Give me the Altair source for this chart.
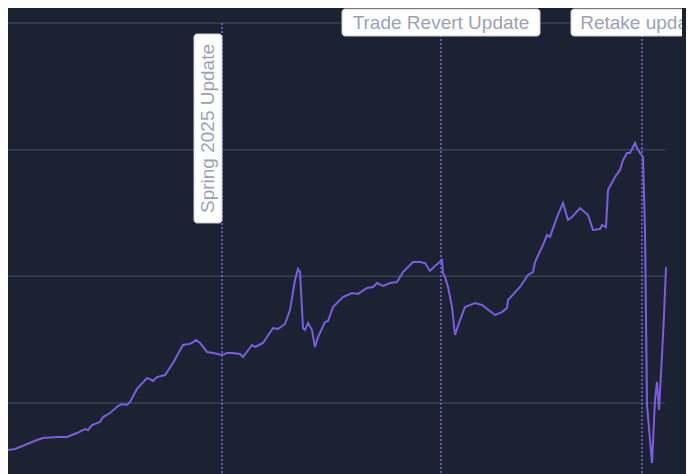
import altair as alt
import pandas as pd

# ---- data ----
t = [0, 8, 15, 20, 37, 43, 57, 67, 77, 85, 88, 92, 100, 103, 110, 118, 122, 127, 130,
     137, 147, 150, 153, 157, 165, 173, 183, 189, 192, 196, 200, 207, 213, 222, 227,
     233, 240, 243, 252, 255, 263, 273, 278, 285, 290, 295, 298, 300, 303, 305, 308,
     312, 315, 318, 325, 328, 333, 343, 352, 358, 367, 373, 377, 383, 390, 397, 403,
     413, 420, 425, 430, 435, 442, 443, 445, 448, 452, 455, 460, 465, 475, 482, 495,
     502, 507, 508, 520, 528, 533, 535, 543, 547, 550, 557, 563, 568, 572, 580, 588,
     593, 600, 602, 606, 608, 615, 620, 623, 627, 630, 635, 637, 640, 643, 645, 647,
     652, 655, 657, 659, 662, 664, 666]
value = [64.5, 62.9, 63.7, 65.3, 70.8, 72.4, 73.2, 73.2, 76.3, 79.5, 78.7, 82.6, 85.0,
         88.9, 92.1, 97.6, 99.2, 98.4, 100.8, 111.1, 119.7, 118.9, 117.4, 120.5, 122.1,
         131.6, 145.8, 146.6, 147.4, 149.7, 147.4, 140.3, 139.5, 137.9, 139.5, 139.5,
         138.7, 136.3, 145.8, 144.2, 147.4, 159.2, 158.4, 162.4, 173.4, 197.1, 205.8,
         203.4, 159.2, 157.6, 163.2, 157.6, 144.2, 152.1, 163.9, 164.7, 175.8, 183.7,
         186.8, 186.1, 190.8, 191.6, 194.7, 192.4, 194.7, 195.5, 203.4, 211.3, 211.3,
         210.5, 204.2, 208.2, 212.9, 202.6, 199.5, 191.6, 175.8, 153.7, 165.5, 175.8,
         178.9, 177.4, 169.5, 171.8, 175.0, 181.3, 191.6, 201.1, 203.4, 211.3, 224.7,
         232.6, 231.1, 246.8, 257.9, 244.5, 246.8, 253.9, 248.4, 236.6, 237.4, 240.5,
         238.9, 268.2, 278.4, 284.0, 291.8, 297.4, 297.4, 305.3, 301.3, 297.4, 294.2,
         236.6, 98.4, 52.6, 102.4, 116.6, 94.5, 137.9, 169.5, 207.4]
grid_values = [100, 200, 300, 400]
grid_end_t = 665
event_names = ["Spring 2025 Update", "Trade Revert Update", "Retake update"]
event_t = [222, 441, 642]
event_vertical = [True, False, False]
label_level = 400

# ---- layout / style ----
X_DOMAIN = [8, 682]
Y_DOMAIN = [43.95, 411.84]
W, H = 674, 466
BG = "#1b2333"
LINE = "#7b5ee0"
GRID = "#394354"
TEXT = "#9aa3b4"
FONT = "Liberation Sans"
box_w = {"Trade Revert Update": 198, "Retake update": 142}
vbox_len = 189

xs = alt.Scale(domain=X_DOMAIN, nice=False, zero=False)
ys = alt.Scale(domain=Y_DOMAIN, nice=False, zero=False)

df = pd.DataFrame({"t": t, "value": value})
grid = pd.DataFrame({"value": grid_values, "start": X_DOMAIN[0], "end": grid_end_t})
events = pd.DataFrame({"name": event_names, "t": event_t, "level": label_level,
                       "bottom": Y_DOMAIN[0]})

grid_layer = alt.Chart(grid).mark_rule(color=GRID, strokeWidth=1.5).encode(
    x=alt.X("start:Q", scale=xs, axis=None),
    x2="end:Q",
    y=alt.Y("value:Q", scale=ys, axis=None),
)

event_layer = alt.Chart(events).mark_rule(
    color="#7d68d8", strokeWidth=1.5, strokeDash=[2, 2]
).encode(
    x=alt.X("t:Q", scale=xs, axis=None),
    y=alt.Y("level:Q", scale=ys, axis=None),
    y2="bottom:Q",
)

line_layer = alt.Chart(df).mark_line(color=LINE, strokeWidth=2, clip=True).encode(
    x=alt.X("t:Q", scale=xs, axis=None),
    y=alt.Y("value:Q", scale=ys, axis=None),
)

layers = [grid_layer, event_layer, line_layer]
for name, et, vert in zip(event_names, event_t, event_vertical):
    row = pd.DataFrame({"name": [name], "t": [et], "level": [label_level]})
    base = alt.Chart(row)
    if vert:
        box = base.mark_rect(
            fill="white", stroke="#c9cdd4", strokeWidth=1, cornerRadius=3, clip=True,
            xOffset=-28, x2Offset=0, yOffset=11, y2Offset=11 + vbox_len,
        ).encode(
            x=alt.X("t:Q", scale=xs, axis=None), x2="t:Q",
            y=alt.Y("level:Q", scale=ys, axis=None), y2="level:Q",
        )
        txt = base.mark_text(
            font=FONT, fontSize=19, color=TEXT, angle=270, align="center",
            baseline="middle", xOffset=-14, yOffset=11 + vbox_len / 2, clip=True,
        ).encode(
            x=alt.X("t:Q", scale=xs, axis=None),
            y=alt.Y("level:Q", scale=ys, axis=None),
            text="name:N",
        )
    else:
        half = box_w[name] / 2
        box = base.mark_rect(
            fill="white", stroke="#c9cdd4", strokeWidth=1, cornerRadius=3, clip=True,
            xOffset=-half, x2Offset=half, yOffset=-14, y2Offset=13,
        ).encode(
            x=alt.X("t:Q", scale=xs, axis=None), x2="t:Q",
            y=alt.Y("level:Q", scale=ys, axis=None), y2="level:Q",
        )
        txt = base.mark_text(
            font=FONT, fontSize=19, color=TEXT, align="center",
            baseline="middle", yOffset=0, clip=True,
        ).encode(
            x=alt.X("t:Q", scale=xs, axis=None),
            y=alt.Y("level:Q", scale=ys, axis=None),
            text="name:N",
        )
    layers += [box, txt]

chart = alt.layer(*layers).properties(
    width=W, height=H, background=BG,
    autosize=alt.AutoSizeParams(type="none"),
    padding={"left": 0, "top": 0, "right": 4, "bottom": 0},
).configure_view(stroke=None)

chart.save("out.html", embed_options={"renderer": "svg", "actions": False})
